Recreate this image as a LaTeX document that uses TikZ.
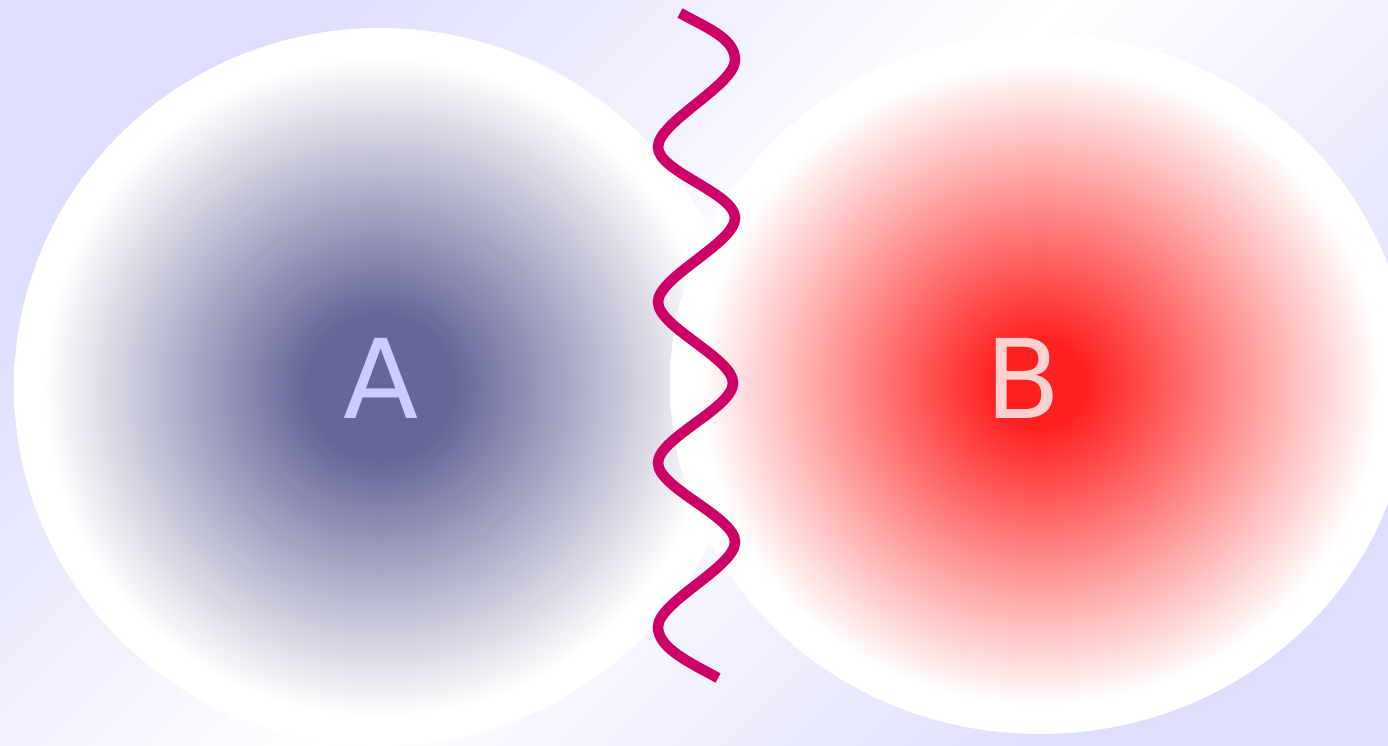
\documentclass[tikz,border=0pt]{standalone}
\usepackage{fontspec}
\setmainfont{DejaVu Sans}

\definecolor{lavender}{RGB}{222,222,254}
\definecolor{coreA}{RGB}{102,102,153}
\definecolor{coreB}{RGB}{255,32,32}
\definecolor{letterA}{RGB}{204,204,255}
\definecolor{letterB}{RGB}{255,208,208}
\definecolor{wavecol}{RGB}{204,0,102}

% the ellipse rim sits near 26bp
\pgfdeclareradialshading{glowA}{\pgfpoint{0bp}{0bp}}{color(0bp)=(coreA); color(5bp)=(coreA); color(23bp)=(white); color(50bp)=(white)}
\pgfdeclareradialshading{glowB}{\pgfpoint{0bp}{0bp}}{color(0bp)=(coreB); color(3bp)=(coreB); color(23bp)=(white); color(50bp)=(white)}
\pgfdeclareverticalshading{backdrop}{100bp}{color(0bp)=(lavender); color(25bp)=(lavender); color(50bp)=(white); color(75bp)=(lavender); color(100bp)=(lavender)}

\tikzset{
  letter/.style={font=\fontsize{62.6}{75}\selectfont, inner sep=0pt},
  wave/.style={draw=wavecol, line width=6pt}
}

\begin{document}
\begin{tikzpicture}[x=0.02cm, y=-0.02cm]
    \useasboundingbox (0,0) rectangle (1388,746);
    % background
    \shade[shading=backdrop, shading angle=45] (0,0) rectangle (1388,746);
    % the two blobs
    \shade[shading=glowA] (380,387) ellipse [x radius=366, y radius=359];
    \shade[shading=glowB] (1040,384) ellipse [x radius=370, y radius=350];
    \node[letter, text=letterA] (labelA) at (381,378) {A};
    \node[letter, text=letterB] (labelB) at (1023,378) {B};
    % wavy line between them
    \draw[wave] (680,13) .. controls +(25,14) and +(0,-22) .. (735,60)
        .. controls +(0,25) and +(0,-25) .. (658,147)
        .. controls +(0,25) and +(0,-25) .. (735,218)
        .. controls +(0,25) and +(0,-25) .. (658,302)
        .. controls +(0,25) and +(0,-25) .. (733,383)
        .. controls +(0,25) and +(0,-25) .. (658,463)
        .. controls +(0,25) and +(0,-25) .. (735,542)
        .. controls +(0,25) and +(0,-25) .. (658,627)
        .. controls +(0,22) and +(-25,-14) .. (718,678);
\end{tikzpicture}
\end{document}
